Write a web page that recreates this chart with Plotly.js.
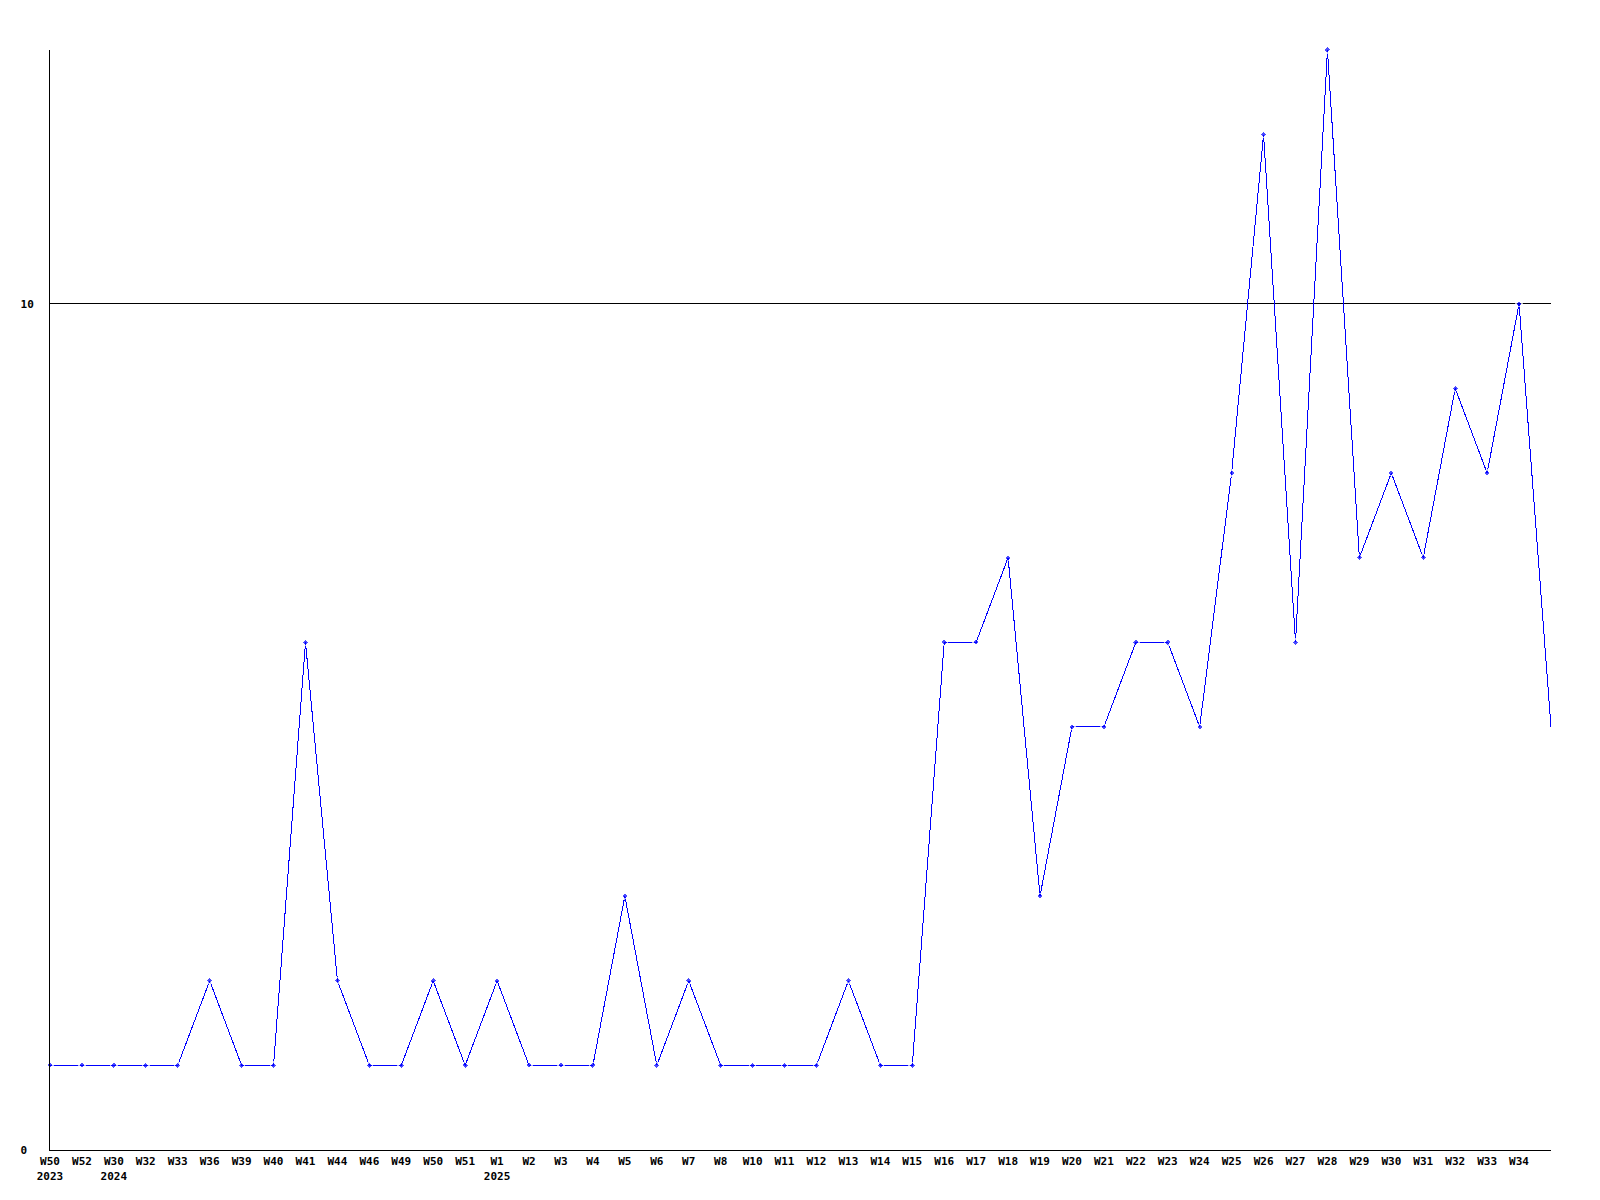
<!DOCTYPE html>
<html>
<head>
<meta charset="utf-8">
<script src="https://cdn.plot.ly/plotly-3.0.1.min.js"></script>
<style>
html,body{margin:0;padding:0;background:#fff;}
#chart{width:1600px;height:1200px;}
.scatterlayer path, .gridlayer path, .xlines-above, .ylines-above, path.xlines-above, path.ylines-above {shape-rendering: crispEdges;}
</style>
</head>
<body>
<div id="chart"></div>
<script>
var weekLabels = ['W50<br>2023','W52','W30<br>2024','W32','W33','W36','W39','W40','W41','W44','W46','W49','W50','W51','W1<br>2025','W2','W3','W4','W5','W6','W7','W8','W10','W11','W12','W13','W14','W15','W16','W17','W18','W19','W20','W21','W22','W23','W24','W25','W26','W27','W28','W29','W30','W31','W32','W33','W34',''];
var counts = [1,1,1,1,1,2,1,1,6,2,1,1,2,1,2,1,1,1,3,1,2,1,1,1,1,2,1,1,6,6,7,3,5,5,6,6,5,8,12,6,13,7,8,7,9,8,10,5];
var yTickVals = [0,10];
var yTickText = ['0\u00a0','10'];

var xs = counts.map(function(_, i){ return i; });
var sizes = counts.map(function(_, i){ return i === counts.length - 1 ? 0 : 5; });

var trace = {
  x: xs,
  y: counts,
  type: 'scatter',
  mode: 'lines+markers',
  line: {color: '#0000ff', width: 1},
  marker: {color: '#0000ff', size: sizes, symbol: 'diamond'},
  cliponaxis: false,
  hoverinfo: 'skip'
};

var font = {family: '"DejaVu Sans Mono", "Liberation Mono", monospace', size: 11, color: '#000', weight: 'bold'};

var layout = {
  width: 1600,
  height: 1200,
  margin: {l: 50, r: 49, t: 50, b: 50},
  paper_bgcolor: '#fff',
  plot_bgcolor: '#fff',
  showlegend: false,
  font: font,
  xaxis: {
    range: [0, counts.length - 1],
    tickmode: 'array',
    tickvals: xs,
    ticktext: weekLabels,
    ticks: '',
    showgrid: false,
    zeroline: false,
    showline: true,
    linecolor: '#000',
    linewidth: 1,
    tickangle: 0,
    ticklabelstandoff: 1,
    tickfont: font,
    fixedrange: true
  },
  yaxis: {
    range: [0, 13],
    tickmode: 'array',
    tickvals: yTickVals,
    ticktext: yTickText,
    ticks: '',
    showgrid: true,
    gridcolor: '#000',
    gridwidth: 1,
    zeroline: false,
    showline: true,
    linecolor: '#000',
    linewidth: 1,
    ticklabelstandoff: 13,
    tickfont: font,
    fixedrange: true
  }
};

Plotly.newPlot('chart', [trace], layout, {displayModeBar: false, staticPlot: true});
</script>
</body>
</html>
